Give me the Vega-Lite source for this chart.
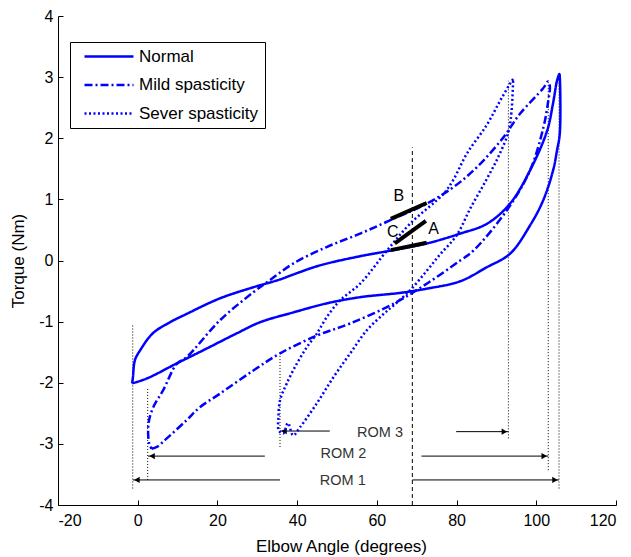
{
  "$schema": "https://vega.github.io/schema/vega-lite/v6.json",
  "width": 558,
  "height": 489,
  "autosize": {"type": "none"},
  "padding": {"left": 58, "top": 16, "right": 15, "bottom": 52},
  "background": "white",
  "config": {
    "view": {"stroke": null},
    "font": "Liberation Sans",
    "axis": {
      "grid": false,
      "domainColor": "black",
      "domainWidth": 1,
      "tickColor": "black",
      "tickSize": -5,
      "labelColor": "black",
      "labelFontSize": 16,
      "labelFont": "Liberation Sans",
      "titleFont": "Liberation Sans",
      "titleFontSize": 17,
      "titleFontWeight": "normal",
      "titleColor": "black",
      "labelExpr": "toString(datum.value)"
    }
  },
  "datasets": {
    "curves": [
      {"series": "Normal", "i": 0, "x": -1.4, "y": -2.01},
      {"series": "Normal", "i": 1, "x": -1.2, "y": -1.91},
      {"series": "Normal", "i": 2, "x": -0.7, "y": -1.63},
      {"series": "Normal", "i": 3, "x": 0.6, "y": -1.47},
      {"series": "Normal", "i": 4, "x": 3.8, "y": -1.19},
      {"series": "Normal", "i": 5, "x": 8.1, "y": -1.01},
      {"series": "Normal", "i": 6, "x": 12.4, "y": -0.87},
      {"series": "Normal", "i": 7, "x": 20.6, "y": -0.62},
      {"series": "Normal", "i": 8, "x": 28.9, "y": -0.44},
      {"series": "Normal", "i": 9, "x": 35.7, "y": -0.31},
      {"series": "Normal", "i": 10, "x": 39.0, "y": -0.23},
      {"series": "Normal", "i": 11, "x": 45.7, "y": -0.08},
      {"series": "Normal", "i": 12, "x": 55.8, "y": 0.07},
      {"series": "Normal", "i": 13, "x": 63.3, "y": 0.16},
      {"series": "Normal", "i": 14, "x": 72.6, "y": 0.28},
      {"series": "Normal", "i": 15, "x": 80.9, "y": 0.44},
      {"series": "Normal", "i": 16, "x": 87.6, "y": 0.60},
      {"series": "Normal", "i": 17, "x": 93.4, "y": 0.93},
      {"series": "Normal", "i": 18, "x": 98.4, "y": 1.47},
      {"series": "Normal", "i": 19, "x": 102.7, "y": 2.12},
      {"series": "Normal", "i": 20, "x": 104.2, "y": 2.57},
      {"series": "Normal", "i": 21, "x": 105.2, "y": 2.94},
      {"series": "Normal", "i": 22, "x": 105.8, "y": 3.05},
      {"series": "Normal", "i": 23, "x": 105.9, "y": 3.0},
      {"series": "Normal", "i": 24, "x": 105.9, "y": 2.08},
      {"series": "Normal", "i": 25, "x": 105.2, "y": 1.80},
      {"series": "Normal", "i": 26, "x": 104.2, "y": 1.47},
      {"series": "Normal", "i": 27, "x": 101.7, "y": 0.98},
      {"series": "Normal", "i": 28, "x": 98.4, "y": 0.57},
      {"series": "Normal", "i": 29, "x": 93.4, "y": 0.11},
      {"series": "Normal", "i": 30, "x": 87.6, "y": -0.11},
      {"series": "Normal", "i": 31, "x": 80.9, "y": -0.34},
      {"series": "Normal", "i": 32, "x": 72.6, "y": -0.46},
      {"series": "Normal", "i": 33, "x": 65.8, "y": -0.53},
      {"series": "Normal", "i": 34, "x": 55.8, "y": -0.60},
      {"series": "Normal", "i": 35, "x": 47.5, "y": -0.70},
      {"series": "Normal", "i": 36, "x": 39.0, "y": -0.85},
      {"series": "Normal", "i": 37, "x": 30.7, "y": -1.01},
      {"series": "Normal", "i": 38, "x": 24.9, "y": -1.19},
      {"series": "Normal", "i": 39, "x": 16.4, "y": -1.47},
      {"series": "Normal", "i": 40, "x": 9.9, "y": -1.68},
      {"series": "Normal", "i": 41, "x": 2.3, "y": -1.93},
      {"series": "Normal", "i": 42, "x": -1.4, "y": -2.01},

      {"series": "Mild spasticity", "i": 0, "x": 3.5, "y": -3.08},
      {"series": "Mild spasticity", "i": 1, "x": 4.8, "y": -3.05},
      {"series": "Mild spasticity", "i": 2, "x": 7.3, "y": -2.91},
      {"series": "Mild spasticity", "i": 3, "x": 12.3, "y": -2.61},
      {"series": "Mild spasticity", "i": 4, "x": 15.6, "y": -2.40},
      {"series": "Mild spasticity", "i": 5, "x": 20.6, "y": -2.18},
      {"series": "Mild spasticity", "i": 6, "x": 29.0, "y": -1.80},
      {"series": "Mild spasticity", "i": 7, "x": 35.7, "y": -1.52},
      {"series": "Mild spasticity", "i": 8, "x": 44.9, "y": -1.23},
      {"series": "Mild spasticity", "i": 9, "x": 53.3, "y": -1.03},
      {"series": "Mild spasticity", "i": 10, "x": 64.1, "y": -0.71},
      {"series": "Mild spasticity", "i": 11, "x": 72.5, "y": -0.38},
      {"series": "Mild spasticity", "i": 12, "x": 80.9, "y": 0.0},
      {"series": "Mild spasticity", "i": 13, "x": 84.2, "y": 0.16},
      {"series": "Mild spasticity", "i": 14, "x": 92.6, "y": 0.82},
      {"series": "Mild spasticity", "i": 15, "x": 98.4, "y": 1.47},
      {"series": "Mild spasticity", "i": 16, "x": 101.8, "y": 2.18},
      {"series": "Mild spasticity", "i": 17, "x": 103.0, "y": 2.61},
      {"series": "Mild spasticity", "i": 18, "x": 103.4, "y": 2.85},
      {"series": "Mild spasticity", "i": 19, "x": 102.9, "y": 2.93},
      {"series": "Mild spasticity", "i": 20, "x": 102.3, "y": 2.87},
      {"series": "Mild spasticity", "i": 21, "x": 101.5, "y": 2.80},
      {"series": "Mild spasticity", "i": 22, "x": 95.9, "y": 2.40},
      {"series": "Mild spasticity", "i": 23, "x": 91.7, "y": 2.01},
      {"series": "Mild spasticity", "i": 24, "x": 85.0, "y": 1.52},
      {"series": "Mild spasticity", "i": 25, "x": 79.2, "y": 1.20},
      {"series": "Mild spasticity", "i": 26, "x": 72.5, "y": 0.93},
      {"series": "Mild spasticity", "i": 27, "x": 64.1, "y": 0.68},
      {"series": "Mild spasticity", "i": 28, "x": 55.8, "y": 0.44},
      {"series": "Mild spasticity", "i": 29, "x": 47.4, "y": 0.22},
      {"series": "Mild spasticity", "i": 30, "x": 39.0, "y": -0.05},
      {"series": "Mild spasticity", "i": 31, "x": 33.0, "y": -0.33},
      {"series": "Mild spasticity", "i": 32, "x": 29.0, "y": -0.52},
      {"series": "Mild spasticity", "i": 33, "x": 20.6, "y": -0.98},
      {"series": "Mild spasticity", "i": 34, "x": 12.3, "y": -1.58},
      {"series": "Mild spasticity", "i": 35, "x": 9.8, "y": -1.69},
      {"series": "Mild spasticity", "i": 36, "x": 6.4, "y": -2.12},
      {"series": "Mild spasticity", "i": 37, "x": 3.9, "y": -2.40},
      {"series": "Mild spasticity", "i": 38, "x": 2.7, "y": -2.67},
      {"series": "Mild spasticity", "i": 39, "x": 2.9, "y": -3.00},
      {"series": "Mild spasticity", "i": 40, "x": 3.5, "y": -3.08},

      {"series": "Sever spasticity", "i": 0, "x": 94.2, "y": 2.97},
      {"series": "Sever spasticity", "i": 1, "x": 93.4, "y": 2.89},
      {"series": "Sever spasticity", "i": 2, "x": 90.9, "y": 2.61},
      {"series": "Sever spasticity", "i": 3, "x": 87.6, "y": 2.22},
      {"series": "Sever spasticity", "i": 4, "x": 82.6, "y": 1.75},
      {"series": "Sever spasticity", "i": 5, "x": 79.1, "y": 1.31},
      {"series": "Sever spasticity", "i": 6, "x": 76.7, "y": 1.09},
      {"series": "Sever spasticity", "i": 7, "x": 68.3, "y": 0.60},
      {"series": "Sever spasticity", "i": 8, "x": 62.5, "y": 0.16},
      {"series": "Sever spasticity", "i": 9, "x": 55.8, "y": -0.38},
      {"series": "Sever spasticity", "i": 10, "x": 50.8, "y": -0.65},
      {"series": "Sever spasticity", "i": 11, "x": 47.4, "y": -0.93},
      {"series": "Sever spasticity", "i": 12, "x": 44.9, "y": -1.20},
      {"series": "Sever spasticity", "i": 13, "x": 42.4, "y": -1.42},
      {"series": "Sever spasticity", "i": 14, "x": 39.9, "y": -1.69},
      {"series": "Sever spasticity", "i": 15, "x": 37.4, "y": -2.01},
      {"series": "Sever spasticity", "i": 16, "x": 35.7, "y": -2.29},
      {"series": "Sever spasticity", "i": 17, "x": 35.3, "y": -2.57},
      {"series": "Sever spasticity", "i": 18, "x": 35.4, "y": -2.78},
      {"series": "Sever spasticity", "i": 19, "x": 36.5, "y": -2.83},
      {"series": "Sever spasticity", "i": 20, "x": 37.7, "y": -2.66},
      {"series": "Sever spasticity", "i": 21, "x": 39.0, "y": -2.86},
      {"series": "Sever spasticity", "i": 22, "x": 40.7, "y": -2.73},
      {"series": "Sever spasticity", "i": 23, "x": 44.9, "y": -2.34},
      {"series": "Sever spasticity", "i": 24, "x": 49.1, "y": -1.91},
      {"series": "Sever spasticity", "i": 25, "x": 53.3, "y": -1.52},
      {"series": "Sever spasticity", "i": 26, "x": 57.5, "y": -1.14},
      {"series": "Sever spasticity", "i": 27, "x": 61.6, "y": -0.88},
      {"series": "Sever spasticity", "i": 28, "x": 64.1, "y": -0.74},
      {"series": "Sever spasticity", "i": 29, "x": 68.3, "y": -0.49},
      {"series": "Sever spasticity", "i": 30, "x": 72.5, "y": -0.17},
      {"series": "Sever spasticity", "i": 31, "x": 76.0, "y": 0.11},
      {"series": "Sever spasticity", "i": 32, "x": 80.0, "y": 0.41},
      {"series": "Sever spasticity", "i": 33, "x": 83.5, "y": 0.86},
      {"series": "Sever spasticity", "i": 34, "x": 87.3, "y": 1.30},
      {"series": "Sever spasticity", "i": 35, "x": 90.5, "y": 1.70},
      {"series": "Sever spasticity", "i": 36, "x": 93.0, "y": 2.10},
      {"series": "Sever spasticity", "i": 37, "x": 93.8, "y": 2.45},
      {"series": "Sever spasticity", "i": 38, "x": 94.2, "y": 2.97}
    ],
    "vlines": [
      {"x": 68.9, "y1": -4, "y2": 1.85, "kind": "dashed"},
      {"x": -1.25, "y1": -3.73, "y2": -1.03, "kind": "dotted"},
      {"x": 2.5, "y1": -3.59, "y2": -2.10, "kind": "dotted"},
      {"x": 35.7, "y1": -3.05, "y2": -1.55, "kind": "dotted"},
      {"x": 93.0, "y1": -2.91, "y2": 2.94, "kind": "dotted"},
      {"x": 103.0, "y1": -3.43, "y2": 2.94, "kind": "dotted"},
      {"x": 105.7, "y1": -3.73, "y2": 3.08, "kind": "dotted"}
    ],
    "arrows": [
      {"x": 48.2, "x2": 35.7, "y": -2.79, "dir": "left"},
      {"x": 79.9, "x2": 93.0, "y": -2.80, "dir": "right"},
      {"x": 31.9, "x2": 2.6, "y": -3.20, "dir": "left"},
      {"x": 71.2, "x2": 103.0, "y": -3.20, "dir": "right"},
      {"x": 35.7, "x2": -1.2, "y": -3.59, "dir": "left"},
      {"x": 68.9, "x2": 105.7, "y": -3.59, "dir": "right"}
    ],
    "segs": [
      {"x": 63.5, "y": 0.68, "x2": 72.5, "y2": 0.94},
      {"x": 64.5, "y": 0.28, "x2": 72.3, "y2": 0.65},
      {"x": 63.5, "y": 0.17, "x2": 72.5, "y2": 0.29}
    ],
    "letters": [
      {"label": "B", "x": 65.5, "y": 1.05},
      {"label": "C", "x": 64.0, "y": 0.46},
      {"label": "A", "x": 74.2, "y": 0.51}
    ],
    "roms": [
      {"label": "ROM 3", "x": 60.8, "y": -2.82},
      {"label": "ROM 2", "x": 51.6, "y": -3.17},
      {"label": "ROM 1", "x": 51.45, "y": -3.61}
    ]
  },
  "layer": [
    {
      "data": {"name": "vlines"},
      "transform": [{"filter": "datum.kind === 'dashed'"}],
      "mark": {"type": "rule", "color": "black", "strokeWidth": 1, "strokeDash": [4, 3]},
      "encoding": {
        "x": {"field": "x", "type": "quantitative", "scale": {"domain": [-20, 120], "nice": false, "zero": false},
              "axis": {"values": [-20, 0, 20, 40, 60, 80, 100, 120], "title": "Elbow Angle (degrees)", "labelPadding": 12, "titleY": 41, "titleX": 283, "titleAlign": "center", "titleBaseline": "middle"}},
        "y": {"field": "y1", "type": "quantitative", "scale": {"domain": [-4, 4], "nice": false, "zero": false},
              "axis": {"values": [-4, -3, -2, -1, 0, 1, 2, 3, 4], "title": "Torque (Nm)", "labelPadding": 10, "titleX": -40, "titleBaseline": "middle"}},
        "y2": {"field": "y2"}
      }
    },
    {
      "data": {"name": "vlines"},
      "transform": [{"filter": "datum.kind === 'dotted'"}],
      "mark": {"type": "rule", "color": "black", "strokeWidth": 1, "strokeDash": [1, 2]},
      "encoding": {
        "x": {"field": "x", "type": "quantitative"},
        "y": {"field": "y1", "type": "quantitative"},
        "y2": {"field": "y2"}
      }
    },
    {
      "data": {"name": "arrows"},
      "mark": {"type": "rule", "color": "black", "strokeWidth": 1},
      "encoding": {
        "x": {"field": "x", "type": "quantitative"},
        "x2": {"field": "x2"},
        "y": {"field": "y", "type": "quantitative"}
      }
    },
    {
      "data": {"name": "arrows"},
      "transform": [{"filter": "datum.dir === 'left'"}],
      "mark": {"type": "point", "shape": "triangle-left", "filled": true, "color": "black", "size": 40, "xOffset": 4, "opacity": 1},
      "encoding": {
        "x": {"field": "x2", "type": "quantitative"},
        "y": {"field": "y", "type": "quantitative"}
      }
    },
    {
      "data": {"name": "arrows"},
      "transform": [{"filter": "datum.dir === 'right'"}],
      "mark": {"type": "point", "shape": "triangle-right", "filled": true, "color": "black", "size": 40, "xOffset": -4, "opacity": 1},
      "encoding": {
        "x": {"field": "x2", "type": "quantitative"},
        "y": {"field": "y", "type": "quantitative"}
      }
    },
    {
      "data": {"name": "curves"},
      "mark": {"type": "line", "strokeWidth": 2.5, "interpolate": "catmull-rom"},
      "encoding": {
        "x": {"field": "x", "type": "quantitative"},
        "y": {"field": "y", "type": "quantitative"},
        "order": {"field": "i", "type": "quantitative"},
        "color": {
          "field": "series", "type": "nominal",
          "scale": {"domain": ["Normal", "Mild spasticity", "Sever spasticity"], "range": ["#0000ff", "#0000ff", "#0000ff"]},
          "legend": {
            "title": null, "orient": "none", "legendX": 12, "legendY": 26,
            "strokeColor": "black", "fillColor": "white", "padding": 6,
            "symbolType": "M0,0H9.8", "symbolSize": 100, "symbolStrokeWidth": 2.5,
            "labelFontSize": 17, "labelFont": "Liberation Sans", "labelColor": "black",
            "labelOffset": 46, "rowPadding": 10.5, "cornerRadius": 0
          }
        },
        "strokeDash": {
          "field": "series", "type": "nominal",
          "scale": {"domain": ["Normal", "Mild spasticity", "Sever spasticity"], "range": [[1, 0], [8, 3, 2, 3], [2, 2.5]]}
        }
      }
    },
    {
      "data": {"name": "segs"},
      "mark": {"type": "rule", "color": "black", "strokeWidth": 4},
      "encoding": {
        "x": {"field": "x", "type": "quantitative"},
        "y": {"field": "y", "type": "quantitative"},
        "x2": {"field": "x2"},
        "y2": {"field": "y2"}
      }
    },
    {
      "data": {"name": "letters"},
      "mark": {"type": "text", "fontSize": 16, "color": "black", "align": "center", "baseline": "middle"},
      "encoding": {
        "x": {"field": "x", "type": "quantitative"},
        "y": {"field": "y", "type": "quantitative"},
        "text": {"field": "label"}
      }
    },
    {
      "data": {"name": "roms"},
      "mark": {"type": "text", "fontSize": 14.5, "color": "#333333", "align": "center", "baseline": "middle"},
      "encoding": {
        "x": {"field": "x", "type": "quantitative"},
        "y": {"field": "y", "type": "quantitative"},
        "text": {"field": "label"}
      }
    }
  ]
}
